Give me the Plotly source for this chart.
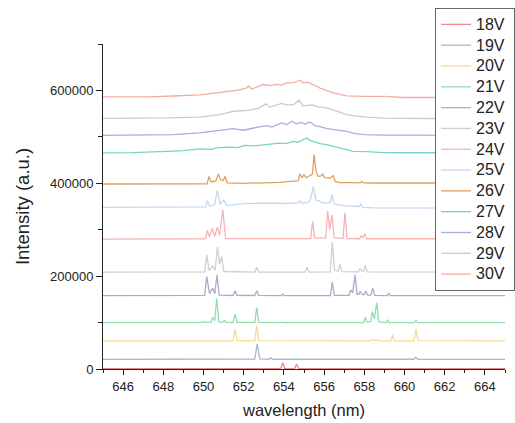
import plotly.graph_objects as go

# ---- data (wavelength in nm, intensity in a.u.) ----
labels = ["18V", "19V", "20V", "21V", "22V", "23V", "24V", "25V", "26V", "27V", "28V", "29V", "30V"]
colors = ["#F08A8A", "#A6B8D2", "#F6DC9C", "#92DDB0", "#B0A9CF", "#CFCFCF", "#F8B4B4",
          "#C4D8F2", "#E0A062", "#78D2CA", "#B2AAE0", "#D2CAC2", "#F2AEA6"]

wl18 = [645, 653.84, 653.94, 654.04, 654.53, 654.63, 654.73, 665]
in18 = [1000, 1000, 13600, 1000, 1000, 10100, 1000, 1000]

wl19 = [645, 648, 650, 652.55, 652.67, 652.8, 653.25, 653.34, 653.43, 656, 660.46, 660.56, 660.66, 665]
in19 = [20900, 21300, 20800, 21500, 53900, 22000, 21000, 24000, 21000, 21200, 21000, 25000, 21000, 20900]

wl20 = [645, 651.47, 651.57, 651.67, 652.55, 652.65, 652.75, 658.3, 658.38, 658.46, 658.55, 658.62,
        658.7, 659.33, 659.41, 659.49, 660.47, 660.57, 660.67, 665]
in20 = [60400, 60600, 86300, 61000, 61000, 92800, 61000, 60600, 63800, 61500, 61500, 63200,
        60600, 60600, 73400, 60600, 60700, 86300, 61000, 60400]

wl21 = [645, 649.9, 649.99, 650.08, 650.38, 650.46, 650.56, 650.66, 650.76, 650.95, 651.04, 651.13,
        651.47, 651.57, 651.67, 652.55, 652.65, 652.75, 653.86, 653.94, 654.02, 657.97, 658.05, 658.13,
        658.32, 658.4, 658.5, 658.62, 658.72, 659.08, 659.16, 659.24, 660.49, 660.57, 660.65, 665]
in21 = [99900, 100000, 102500, 100500, 101000, 111500, 104000, 152500, 101500, 100500, 104000, 100500,
        100200, 118000, 100500, 100300, 132300, 100500, 100000, 101500, 100000, 100000, 111500, 101500,
        102000, 123600, 108000, 143100, 101500, 100000, 105000, 100000, 100000, 104000, 100000, 99900]

wl22 = [645, 650.06, 650.16, 650.3, 650.46, 650.56, 650.67, 650.78, 651.47, 651.57, 651.67, 652.55,
        652.65, 652.75, 653.86, 653.94, 654.02, 656.31, 656.41, 656.51, 657.24, 657.32, 657.42, 657.54,
        657.64, 657.72, 657.79, 657.9, 657.99, 658.07, 658.17, 658.33, 658.42, 658.52, 659.13, 659.21,
        659.29, 665]
in22 = [158100, 158500, 199100, 163000, 174100, 162000, 202800, 159000, 158300, 168300, 158500, 158300,
        168300, 158500, 158100, 161000, 158100, 158200, 187000, 158500, 158500, 170400, 164000, 202800,
        161000, 161000, 167000, 160000, 160000, 168000, 159000, 159000, 174100, 158500, 158100, 163000,
        158100, 158100]

wl23 = [645, 650.06, 650.16, 650.28, 650.45, 650.58, 650.69, 650.8, 650.9, 651.02, 652.55, 652.65,
        652.75, 655.05, 655.15, 655.25, 656.3, 656.41, 656.52, 656.7, 656.79, 656.88, 657.7, 657.79,
        657.88, 657.97, 658.05, 658.14, 665]
in23 = [208600, 209000, 246000, 212000, 222000, 213000, 262500, 226000, 242300, 210000, 208800, 218600,
        208800, 208800, 218600, 208800, 209000, 273300, 212000, 211000, 225900, 209500, 209000, 216000,
        211000, 211000, 222900, 209000, 208600]

wl24 = [645, 650.1, 650.19, 650.3, 650.44, 650.56, 650.69, 650.8, 650.96, 651.1, 655.33, 655.43,
        655.53, 656.08, 656.18, 656.28, 656.39, 656.5, 656.94, 657.04, 657.14, 657.76, 657.84, 657.93,
        658.03, 658.12, 665]
in24 = [279800, 280500, 298400, 284000, 303500, 286000, 305700, 288000, 343000, 281000, 281000, 317800,
        282000, 282000, 340900, 300000, 332300, 283000, 281000, 337200, 281000, 280500, 287000, 283000,
        291300, 280500, 280500]

wl25 = [645, 648, 650.1, 650.19, 650.3, 650.55, 650.69, 650.82, 651.02, 651.15, 652, 653, 654, 654.7,
        654.8, 654.9, 655.2, 655.3, 655.46, 655.6, 655.75, 655.9, 656.3, 656.39, 656.5, 657, 657.75,
        657.83, 657.92, 658.5, 665]
in25 = [348000, 348500, 349000, 362500, 351000, 354000, 384700, 356000, 363200, 352000, 356000, 357500,
        356500, 358000, 362000, 357000, 359000, 362000, 392000, 363000, 362000, 358000, 358000, 375400,
        355000, 352000, 350000, 356000, 348000, 347000, 346700]

wl26 = [645, 649, 650.18, 650.27, 650.38, 650.62, 650.74, 650.86, 650.98, 651.07, 651.18, 652, 653,
        653.8, 654.3, 654.7, 654.8, 654.9, 655.0, 655.1, 655.2, 655.3, 655.42, 655.5, 655.6, 655.7,
        655.85, 655.93, 656.02, 656.3, 656.46, 656.55, 656.8, 657.3, 657.8, 657.87, 657.95, 658.5, 665]
in26 = [398500, 398500, 399000, 414900, 403000, 405000, 420000, 407000, 406000, 414900, 401000, 400000,
        400500, 402000, 404000, 405000, 420700, 411400, 418600, 412000, 414000, 416500, 420000, 461700,
        425000, 414900, 416000, 420000, 412000, 411000, 416400, 404000, 401500, 401500, 401000, 404000,
        400800, 400600, 400600]

wl27 = [645, 646.5, 648.17, 649, 649.83, 650.4, 650.66, 651.2, 651.7, 652.06, 652.5, 653, 653.47,
        653.8, 654.1, 654.47, 654.7, 654.9, 655.13, 655.3, 655.5, 655.8, 656.1, 656.46, 656.8, 657.12,
        657.45, 658.12, 658.94, 660, 662, 665]
in27 = [465400, 466000, 468900, 470500, 474000, 473000, 476100, 478000, 477000, 481800, 480500, 483000,
        484000, 486500, 485500, 490400, 488000, 492000, 497700, 492600, 490000, 485400, 483500, 479600,
        476000, 473100, 468900, 468300, 466000, 465800, 465500, 465500]

wl28 = [645, 647, 648.5, 649.8, 650.6, 651.0, 651.48, 651.98, 652.3, 652.65, 653.14, 653.4, 653.89,
        654.15, 654.39, 654.6, 654.89, 655.05, 655.3, 655.55, 655.8, 656.13, 656.6, 657.12, 657.5,
        657.95, 659, 662, 665]
in28 = [503400, 503600, 505000, 508500, 513000, 516000, 517800, 514200, 518000, 520500, 524300, 521000,
        530000, 526500, 533600, 528000, 531000, 527500, 532200, 524000, 522000, 517800, 515000, 512000,
        507500, 504800, 503800, 503300, 503200]

wl29 = [645, 647, 648.17, 649.8, 650.8, 651.48, 652.2, 652.7, 653.11, 653.3, 653.6, 653.89, 654.2,
        654.5, 654.75, 654.95, 655.2, 655.46, 655.7, 656.13, 656.6, 657.12, 657.6, 658.12, 659, 661, 665]
in29 = [540000, 540300, 540700, 542700, 548000, 555100, 557000, 561000, 571100, 563500, 568000, 572000,
        568500, 570000, 578900, 566500, 568500, 568100, 564500, 562400, 556000, 548000, 544500, 542300,
        540500, 539500, 539300]

wl30 = [645, 647.3, 648.5, 649.8, 650.66, 651.3, 651.8, 652.15, 652.23, 652.4, 652.98, 653.3, 653.64,
        653.9, 654.14, 654.5, 654.8, 654.95, 655.15, 655.46, 655.8, 656.46, 657.12, 658, 659, 659.94,
        662, 665]
in30 = [586200, 586200, 588000, 590500, 594800, 598000, 601000, 605500, 609500, 603000, 612700, 610500,
        613000, 611500, 616300, 617000, 622000, 616500, 618000, 612700, 605000, 594800, 588400, 587000,
        587000, 584800, 584800, 584800]

x_ticks = [646, 648, 650, 652, 654, 656, 658, 660, 662, 664]
y_ticks = [0, 200000, 400000, 600000]

wls = [wl18, wl19, wl20, wl21, wl22, wl23, wl24, wl25, wl26, wl27, wl28, wl29, wl30]
ints = [in18, in19, in20, in21, in22, in23, in24, in25, in26, in27, in28, in29, in30]

FONT = "Liberation Sans, Arial, sans-serif"
fig = go.Figure()
for name, c, x, y in zip(labels, colors, wls, ints):
    fig.add_trace(go.Scatter(x=x, y=y, mode="lines",
                             name='<span style="font-size:16px">' + name + "\u00a0</span>",
                             line=dict(color=c, width=1.3)))

fig.update_layout(
    width=515, height=423, autosize=False,
    margin=dict(l=103, r=10, t=44, b=54, pad=0, autoexpand=False),
    paper_bgcolor="white", plot_bgcolor="white",
    font=dict(family=FONT, color="#222"),
    showlegend=True,
    legend=dict(x=0.826, xref="paper", y=1 - 8 / 423, yref="container",
                xanchor="left", yanchor="top", maxheight=1,
                bordercolor="#666", borderwidth=1, bgcolor="white",
                font=dict(size=13.7, color="#222", family=FONT),
                tracegroupgap=0),
    xaxis=dict(range=[645, 665], tickvals=x_ticks, ticks="outside", ticklen=5, tickwidth=1,
               tickcolor="#222", showline=True, linecolor="#222", linewidth=1,
               showgrid=False, zeroline=False, tickfont=dict(size=13, color="#222"),
               minor=dict(dtick=1, tick0=645, ticks="outside", ticklen=3, tickcolor="#222", showgrid=False),
               title=dict(text="wavelength (nm)", font=dict(size=16.5, color="#222"), standoff=11)),
    yaxis=dict(range=[0, 700000], tickvals=y_ticks, tickformat="d", ticks="outside", ticklen=6,
               tickwidth=1, tickcolor="#222", showline=True, linecolor="#222", linewidth=1,
               showgrid=False, zeroline=False, tickfont=dict(size=13, color="#222"),
               minor=dict(dtick=100000, tick0=0, ticks="outside", ticklen=4, tickcolor="#222", showgrid=False),
               title=dict(text="Intensity (a.u.)", font=dict(size=18.5, color="#222"), standoff=15)),
)

fig.write_html("out.html")
